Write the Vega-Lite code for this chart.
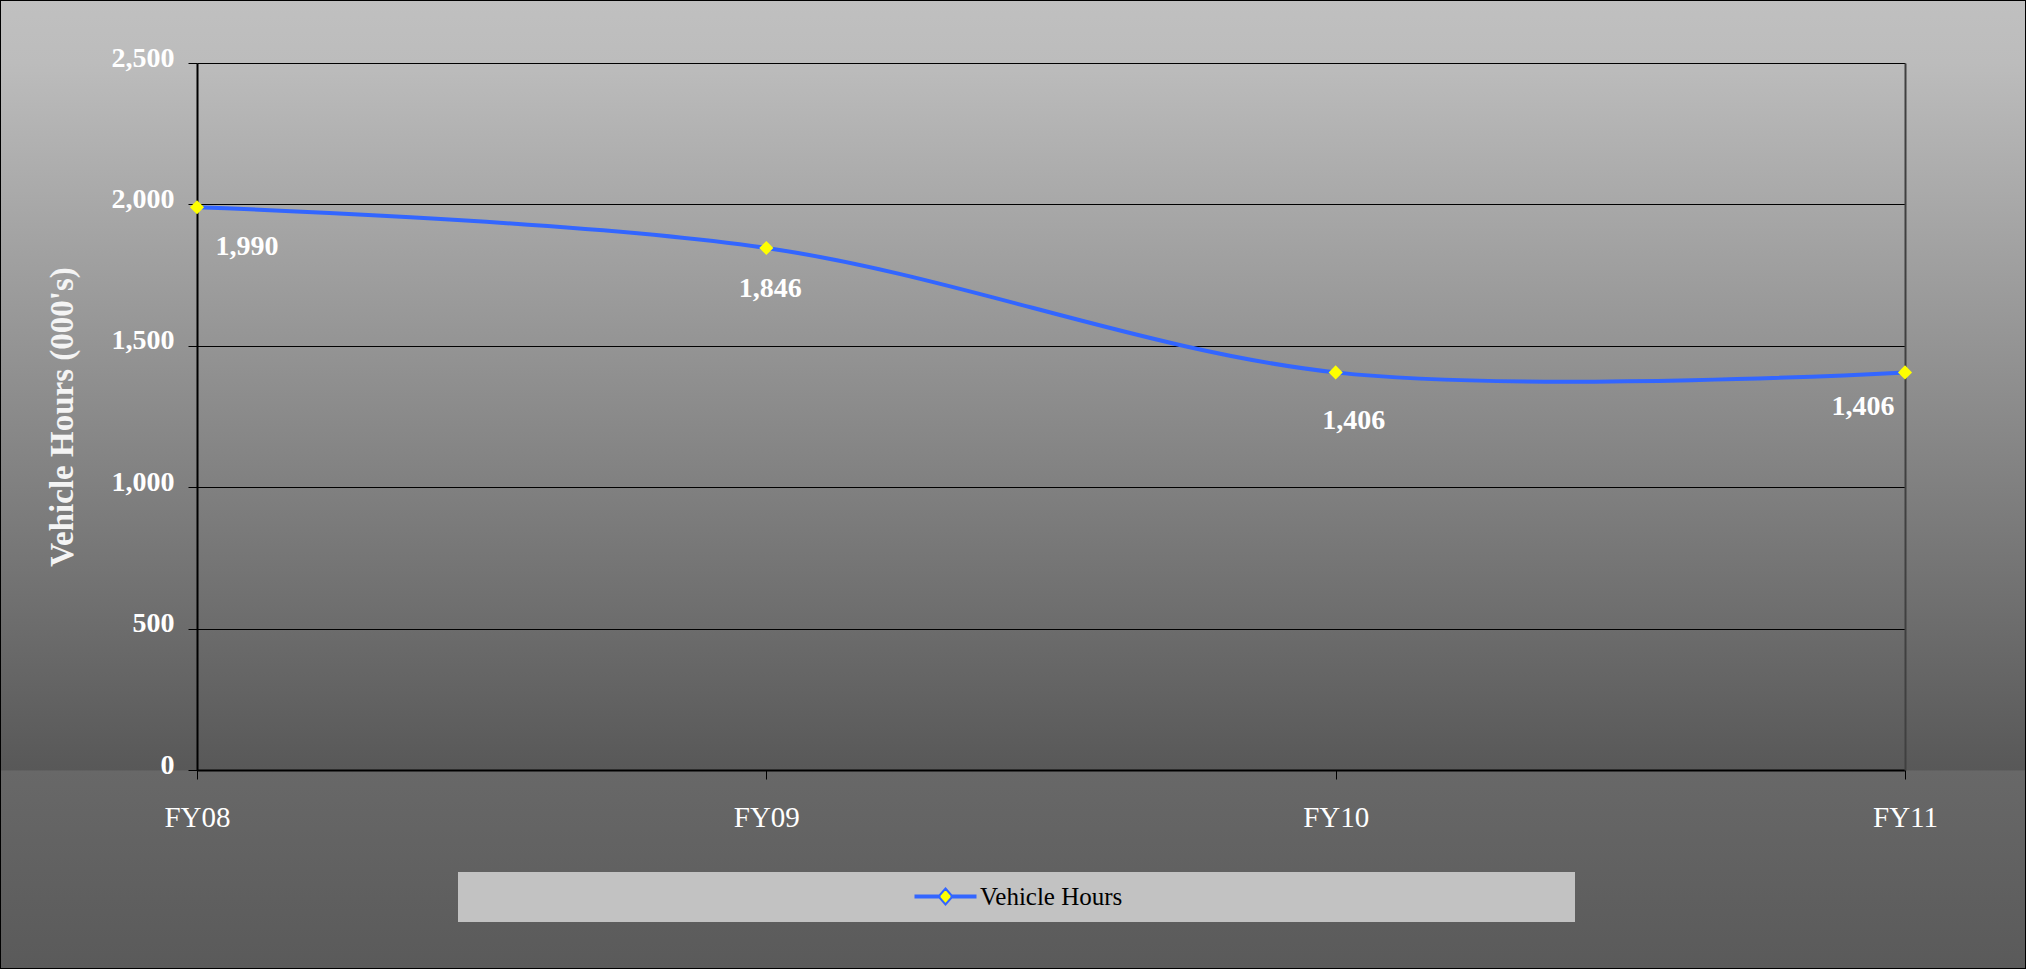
{
  "$schema": "https://vega.github.io/schema/vega-lite/v6.json",
  "width": 2026,
  "height": 969,
  "autosize": "none",
  "padding": 0,
  "background": "#7a7a7a",
  "config": {
    "font": "Liberation Serif",
    "view": {
      "fill": {
        "gradient": "linear",
        "x1": 0, "y1": 0, "x2": 0, "y2": 1,
        "stops": [
          {"offset": 0, "color": "#c0c0c0"},
          {"offset": 0.065, "color": "#bcbcbc"},
          {"offset": 0.7946, "color": "#585858"},
          {"offset": 0.7956, "color": "#686868"},
          {"offset": 1, "color": "#5a5a5a"}
        ]
      },
      "stroke": "#000000",
      "strokeWidth": 2
    }
  },
  "data": {
    "values": [
      {"year": "FY08", "hours": 1990},
      {"year": "FY09", "hours": 1846},
      {"year": "FY10", "hours": 1406},
      {"year": "FY11", "hours": 1406}
    ]
  },
  "resolve": {"axis": {"y": "independent"}},
  "encoding": {
    "x": {
      "field": "year",
      "type": "ordinal",
      "scale": {"type": "point", "padding": 0, "range": [197, 1905]},
      "axis": {
        "orient": "bottom",
        "offset": -199,
        "title": null,
        "labelAngle": 0,
        "labelColor": "#ffffff",
        "labelFont": "Liberation Serif",
        "labelFontSize": 29,
        "labelPadding": 24,
        "domainColor": "#000000",
        "domainWidth": 2,
        "tickColor": "#000000",
        "tickSize": 9,
        "tickWidth": 1,
        "grid": false
      }
    },
    "y": {
      "field": "hours",
      "type": "quantitative",
      "scale": {"domain": [0, 2500], "nice": false, "zero": true, "range": [770, 63]},
      "axis": null
    }
  },
  "layer": [
    {
      "mark": {"type": "line", "interpolate": "cardinal", "strokeWidth": 4},
      "encoding": {
        "y": {
          "field": "hours",
          "type": "quantitative",
          "scale": {"domain": [0, 2500], "nice": false, "zero": true, "range": [770, 63]},
          "axis": {
            "orient": "left",
            "offset": -197,
            "values": [0, 500, 1000, 1500, 2000, 2500],
            "format": ",d",
            "title": "Vehicle Hours (000's)",
            "titleColor": "#f4f4f4",
            "titleFont": "Liberation Serif",
            "titleFontSize": 33,
            "titleFontWeight": "bold",
            "titlePadding": 32,
            "labelColor": "#ffffff",
            "labelFont": "Liberation Serif",
            "labelFontSize": 28,
            "labelFontWeight": "bold",
            "labelPadding": 14,
            "labelOffset": -5,
            "domainColor": "#000000",
            "domainWidth": 2,
            "tickColor": "#000000",
            "tickSize": 9,
            "tickWidth": 1,
            "grid": true,
            "gridColor": "#000000",
            "gridWidth": 1
          }
        },
        "stroke": {
          "datum": "Vehicle Hours",
          "scale": {"range": ["#3366ff"]},
          "legend": {
            "orient": "none",
            "legendX": 458,
            "legendY": 872,
            "title": null,
            "fillColor": "#c2c2c2",
            "padding": 12,
            "symbolType": "M-3,-0.09H-0.6V0.09H-3ZM0.6,-0.09H3V0.09H0.6ZM0,-0.8L0.7,0L0,0.8L-0.7,0ZM61.3,0",
            "symbolSize": 400,
            "symbolStrokeWidth": 2,
            "symbolFillColor": "#ffff00",
            "symbolStrokeColor": "#3366ff",
            "symbolOffset": 463,
            "labelOffset": 22,
            "labelFont": "Liberation Serif",
            "labelFontSize": 25,
            "labelColor": "#000000"
          }
        }
      }
    },
    {
      "mark": {"type": "point", "shape": "diamond", "filled": true, "fill": "#ffff00", "size": 200, "opacity": 1, "strokeWidth": 0},
      "encoding": {
        "y": {
          "field": "hours",
          "type": "quantitative",
          "scale": {"domain": [0, 2500], "nice": false, "zero": true, "range": [770, 63]},
          "axis": {
            "orient": "right",
            "offset": -121,
            "title": null,
            "labels": false,
            "ticks": false,
            "grid": false,
            "domain": true,
            "domainColor": "#404040",
            "domainWidth": 2
          }
        }
      }
    },
    {
      "transform": [{"filter": "datum.year === 'FY08'"}],
      "mark": {"type": "text", "dx": 50, "dy": 40, "align": "center", "baseline": "middle", "font": "Liberation Serif", "fontSize": 28, "fontWeight": "bold", "color": "#ffffff"},
      "encoding": {"text": {"field": "hours", "type": "quantitative", "format": ",d"}}
    },
    {
      "transform": [{"filter": "datum.year === 'FY09'"}],
      "mark": {"type": "text", "dx": 4, "dy": 41, "align": "center", "baseline": "middle", "font": "Liberation Serif", "fontSize": 28, "fontWeight": "bold", "color": "#ffffff"},
      "encoding": {"text": {"field": "hours", "type": "quantitative", "format": ",d"}}
    },
    {
      "transform": [{"filter": "datum.year === 'FY10'"}],
      "mark": {"type": "text", "dx": 18, "dy": 49, "align": "center", "baseline": "middle", "font": "Liberation Serif", "fontSize": 28, "fontWeight": "bold", "color": "#ffffff"},
      "encoding": {"text": {"field": "hours", "type": "quantitative", "format": ",d"}}
    },
    {
      "transform": [{"filter": "datum.year === 'FY11'"}],
      "mark": {"type": "text", "dx": -42, "dy": 35, "align": "center", "baseline": "middle", "font": "Liberation Serif", "fontSize": 28, "fontWeight": "bold", "color": "#ffffff"},
      "encoding": {"text": {"field": "hours", "type": "quantitative", "format": ",d"}}
    }
  ]
}
